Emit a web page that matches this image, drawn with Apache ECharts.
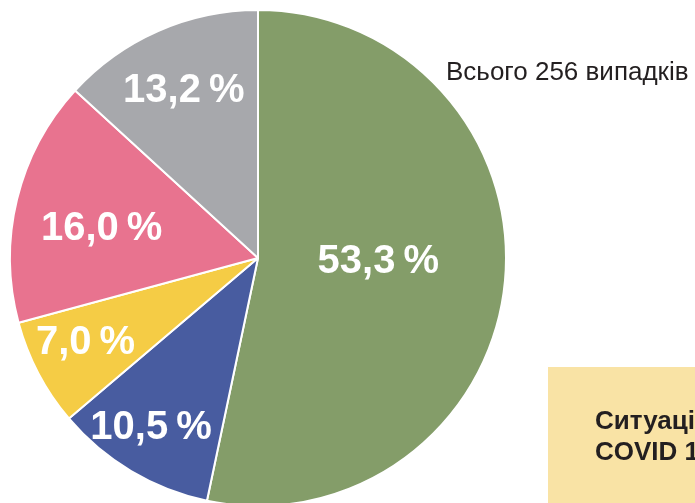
<!DOCTYPE html>
<html>
<head>
<meta charset="utf-8">
<script src="https://cdn.jsdelivr.net/npm/echarts@6/dist/echarts.min.js"></script>
<style>
html,body{margin:0;padding:0;background:#fff;}
#c{width:695px;height:503px;}
</style>
</head>
<body>
<div id="c"></div>
<script>
// Data
const categories = ['A', 'B', 'C', 'D', 'E'];
const values = [53.3, 10.5, 7.0, 16.0, 13.2];
const labelTexts = ['53,3\u2009%', '10,5\u2009%', '7,0\u2009%', '16,0\u2009%', '13,2\u2009%'];
const totalText = 'Всього 256 випадків';
const boxLines = ['Ситуація з', 'COVID 19'];

// Styles
const colors = ['#849D69', '#485CA0', '#F5CC45', '#E8738F', '#A7A8AC'];
const labelShift = [[-6, -9], [-42, 61], [-60, 26], [-33, 1], [-23, -51]];

const chart = echarts.init(document.getElementById('c'), null, {renderer: 'canvas'});
chart.setOption({
  animation: false,
  title: {
    text: totalText,
    left: 441, top: 55,
    textStyle: {fontFamily: 'Liberation Sans, Arial, sans-serif', fontSize: 26, fontWeight: 'normal', color: '#231F20'}
  },
  graphic: [
    {type: 'rect', left: 548, top: 367, shape: {width: 160, height: 150}, style: {fill: '#F9E3A5'}, z: 1},
    {type: 'text', left: 595, top: 406, style: {
      text: boxLines.join('\n'), fill: '#231F20',
      font: 'bold 26px "Liberation Sans", Arial, sans-serif', lineHeight: 31
    }, z: 2}
  ],
  series: [{
    type: 'pie',
    center: [258, 258],
    radius: [0, 248],
    startAngle: 90,
    clockwise: true,
    avoidLabelOverlap: false,
    itemStyle: {borderColor: '#fff', borderWidth: 2},
    label: {
      show: true, position: 'inside',
      color: '#fff', fontFamily: 'Liberation Sans, Arial, sans-serif',
      fontWeight: 'bold', fontSize: 40,
      formatter: p => labelTexts[p.dataIndex]
    },
    labelLine: {show: false},
    emphasis: {disabled: true},
    labelLayout: p => ({dx: labelShift[p.dataIndex][0], dy: labelShift[p.dataIndex][1]}),
    data: categories.map((c, i) => ({name: c, value: values[i], itemStyle: {color: colors[i]}}))
  }]
});
</script>
</body>
</html>
